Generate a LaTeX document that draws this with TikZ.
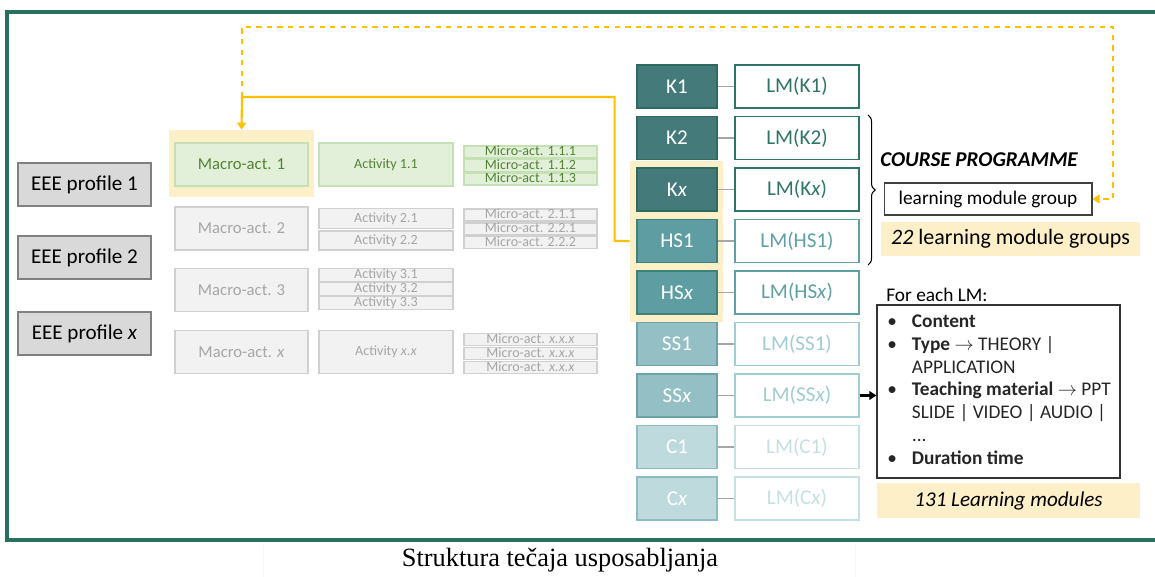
\documentclass[tikz,border=0pt]{standalone}
\usepackage{fontspec}
\setmainfont{Carlito}
\newfontfamily\capfont{Liberation Serif}
\usetikzlibrary{arrows.meta}
\usetikzlibrary{decorations.pathreplacing}

\definecolor{frameg}{RGB}{40,112,94}
\definecolor{ylight}{RGB}{253,239,199}
\definecolor{yline}{RGB}{255,192,0}
\definecolor{proffill}{RGB}{217,217,217}
\definecolor{profline}{RGB}{128,128,128}
\definecolor{grfill}{RGB}{226,240,217}
\definecolor{grline}{RGB}{197,224,180}
\definecolor{grtext}{RGB}{84,130,53}
\definecolor{gyfill}{RGB}{242,242,242}
\definecolor{gyline}{RGB}{208,208,208}
\definecolor{gytext}{RGB}{166,166,166}
\definecolor{kfill}{RGB}{69,122,123}
\definecolor{kline}{RGB}{46,106,96}
\definecolor{ktext}{RGB}{46,117,104}
\definecolor{hfill}{RGB}{94,158,162}
\definecolor{hline}{RGB}{62,128,122}
\definecolor{htext}{RGB}{95,160,165}
\definecolor{sfill}{RGB}{148,192,197}
\definecolor{sline}{RGB}{108,163,168}
\definecolor{stext}{RGB}{160,205,210}
\definecolor{cfill}{RGB}{190,218,221}
\definecolor{cline}{RGB}{140,188,193}
\definecolor{ctext}{RGB}{197,224,226}

\tikzset{
  profbox/.style={draw=profline, fill=proffill, line width=0.6pt, minimum width=2.66cm, minimum height=0.86cm, font=\fontsize{12}{14}\selectfont},
  actgreen/.style={draw=grline, fill=grfill, text=grtext, line width=0.6pt},
  actgray/.style={draw=gyline, fill=gyfill, text=gytext, line width=0.6pt},
  macro/.style={minimum width=2.66cm, minimum height=0.86cm, font=\fontsize{9.5}{11}\selectfont},
  act/.style={minimum width=2.68cm, inner sep=0pt, text height=5pt, text depth=0.5pt, font=\fontsize{8}{9}\selectfont},
  micro/.style={minimum width=2.66cm, minimum height=0.24cm, inner sep=0pt, text height=5pt, text depth=0.5pt, font=\fontsize{8}{9}\selectfont},
  kbox/.style={draw=#1line, fill=#1fill, text=white, line width=0.6pt, minimum width=1.6cm, minimum height=0.86cm, font=\fontsize{12}{14}\selectfont},
  lmbox/.style={draw=#1text, fill=white, text=#1text, line width=0.6pt, minimum width=2.48cm, minimum height=0.86cm, font=\fontsize{12}{14}\selectfont},
  link/.style={draw=gray!70, line width=0.7pt},
  ylink/.style={draw=yline, line width=1.2pt, -{Triangle[length=4pt,width=5pt]}},
}

\begin{document}
\begin{tikzpicture}[x=0.02cm, y=-0.02cm]

  \useasboundingbox (0,0) rectangle (1155,577);
  \draw[frameg, line width=1.8pt] (7,12) rectangle (1170,540);
  \draw[gray!8] (263,545) -- (263,577);
  \draw[gray!8] (855,545) -- (855,577);

  % highlights
  \node[fill=ylight, minimum width=2.9cm, minimum height=1.34cm, inner sep=0pt] (hlm) at (241.5,163.5) {};
  \node[fill=ylight, minimum width=1.86cm, minimum height=3.22cm, inner sep=0pt] (hlk) at (676.5,241.5) {};

  % profiles
  \node[profbox] (p1) at (84.5,184.5) {EEE profile 1};
  \node[profbox] (p2) at (84.5,257.5) {EEE profile 2};
  \node[profbox] (px) at (84.5,333.5) {EEE profile \textit{x}};

  % macro activities
  \node[macro, actgreen] (m1) at (241.5,164.5) {Macro-act. 1};
  \node[macro, actgray] (m2) at (241.5,228.5) {Macro-act. 2};
  \node[macro, actgray] (m3) at (241.5,290) {Macro-act. 3};
  \node[macro, actgray] (mx) at (241.5,352) {Macro-act. \textit{x}};

  % activities
  \node[act, actgreen, minimum height=0.86cm] (a11) at (386,164.5) {Activity 1.1};
  \node[act, actgray, minimum height=0.41cm] (a21) at (386,218.5) {Activity 2.1};
  \node[act, actgray, minimum height=0.38cm] (a22) at (386,240.5) {Activity 2.2};
  \node[act, actgray, minimum height=0.26cm] (a31) at (386,275) {Activity 3.1};
  \node[act, actgray, minimum height=0.26cm] (a32) at (386,289) {Activity 3.2};
  \node[act, actgray, minimum height=0.26cm] (a33) at (386,303) {Activity 3.3};
  \node[act, actgray, minimum height=0.86cm] (axx) at (386,352) {Activity \textit{x.x}};

  % micro activities
  \node[micro, actgreen] (u111) at (530.5,152) {Micro-act. 1.1.1};
  \node[micro, actgreen] (u112) at (530.5,165.5) {Micro-act. 1.1.2};
  \node[micro, actgreen] (u113) at (530.5,179) {Micro-act. 1.1.3};
  \node[micro, actgray] (u211) at (530.5,215) {Micro-act. 2.1.1};
  \node[micro, actgray] (u221) at (530.5,229) {Micro-act. 2.2.1};
  \node[micro, actgray] (u222) at (530.5,242.5) {Micro-act. 2.2.2};
  \node[micro, actgray] (ux1) at (530.5,339.5) {Micro-act. \textit{x.x.x}};
  \node[micro, actgray] (ux2) at (530.5,353.5) {Micro-act. \textit{x.x.x}};
  \node[micro, actgray] (ux3) at (530.5,367.5) {Micro-act. \textit{x.x.x}};

  % competences
  \node[kbox=k] (k1) at (677,86.5) {K1};
  \node[kbox=k] (k2) at (677,138) {K2};
  \node[kbox=k] (kx) at (677,189.5) {K\textit{x}};
  \node[kbox=h] (hs1) at (677,241) {HS1};
  \node[kbox=h] (hsx) at (677,292.5) {HS\textit{x}};
  \node[kbox=s] (ss1) at (677,344) {SS1};
  \node[kbox=s] (ssx) at (677,395.5) {SS\textit{x}};
  \node[kbox=c] (c1) at (677,447) {C1};
  \node[kbox=c] (cx) at (677,498.5) {C\textit{x}};

  % learning modules
  \node[lmbox=k] (lmk1) at (797,86.5) {LM(K1)};
  \node[lmbox=k] (lmk2) at (797,138) {LM(K2)};
  \node[lmbox=k] (lmkx) at (797,189.5) {LM(K\textit{x})};
  \node[lmbox=h] (lmhs1) at (797,241) {LM(HS1)};
  \node[lmbox=h] (lmhsx) at (797,292.5) {LM(HS\textit{x})};
  \node[lmbox=s] (lmss1) at (797,344) {LM(SS1)};
  \node[lmbox=s] (lmssx) at (797,395.5) {LM(SS\textit{x})};
  \node[lmbox=c] (lmc1) at (797,447) {LM(C1)};
  \node[lmbox=c] (lmcx) at (797,498.5) {LM(C\textit{x})};

  \draw[link] (k1) -- (lmk1);
  \draw[link] (k2) -- (lmk2);
  \draw[link] (kx) -- (lmkx);
  \draw[link] (hs1) -- (lmhs1);
  \draw[link] (hsx) -- (lmhsx);
  \draw[link] (ss1) -- (lmss1);
  \draw[link] (ssx) -- (lmssx);
  \draw[link] (c1) -- (lmc1);
  \draw[link] (cx) -- (lmcx);

  % course programme
  \draw[decorate, decoration={brace, amplitude=4pt}, line width=0.6pt] (868,115) -- (868,265);
  \node[anchor=west, inner sep=0pt, font=\fontsize{12}{14}\selectfont\bfseries\itshape] (cp) at (880,160) {COURSE PROGRAMME};
  \node[draw=black!75, line width=0.6pt, minimum width=4.16cm, minimum height=0.64cm, font=\fontsize{11}{13}\selectfont] (grp) at (988,199) {learning module group};
  \node[fill=ylight, minimum width=5.18cm, minimum height=0.68cm, font=\fontsize{12.5}{14}\selectfont] (ngrp) at (1010.5,239) {\textit{22} learning module groups};

  % each LM
  \node[anchor=west, inner sep=0pt, font=\fontsize{11}{13}\selectfont] (each) at (886,295) {For each LM:};
  \node[draw=black!80, line width=0.7pt, minimum width=4.86cm, minimum height=3.46cm] (lst) at (998.5,391.5) {};
  \node[anchor=north west, inner sep=0pt, font=\fontsize{11}{13}\selectfont, text=black!85] (lsttxt) at (887,311) {%
    \begin{tabular}{@{}l@{}l@{}}
      \makebox[14pt][l]{\textbullet} & \textbf{Content}\\
      \makebox[14pt][l]{\textbullet} & \textbf{Type} $\rightarrow$ THEORY |\\
       & APPLICATION\\
      \makebox[14pt][l]{\textbullet} & \textbf{Teaching material} $\rightarrow$ PPT\\
       & SLIDE | VIDEO | AUDIO |\\
       & ...\\
      \makebox[14pt][l]{\textbullet} & \textbf{Duration time}
    \end{tabular}};
  \node[fill=ylight, minimum width=5.26cm, minimum height=0.7cm, font=\fontsize{12}{14}\selectfont\itshape] (nlm) at (1008.5,500.5) {131 Learning modules};
  \draw[line width=1.3pt, -{Triangle[length=4pt,width=5pt]}] (lmssx) -- (lmssx -| lst.west);

  % yellow links
  \coordinate (jn) at (242,97);
  \draw[ylink] (hlk.west |- hs1) -- ++(-15,0) |- (jn) -- (hlm.north);
  \draw[ylink, dashed, line width=1pt] (jn) |- (1113,27) |- (grp.east);

  \node[font=\capfont\fontsize{15}{17}\selectfont] (cap) at (560,560) {Struktura tečaja usposabljanja};

\end{tikzpicture}
\end{document}
